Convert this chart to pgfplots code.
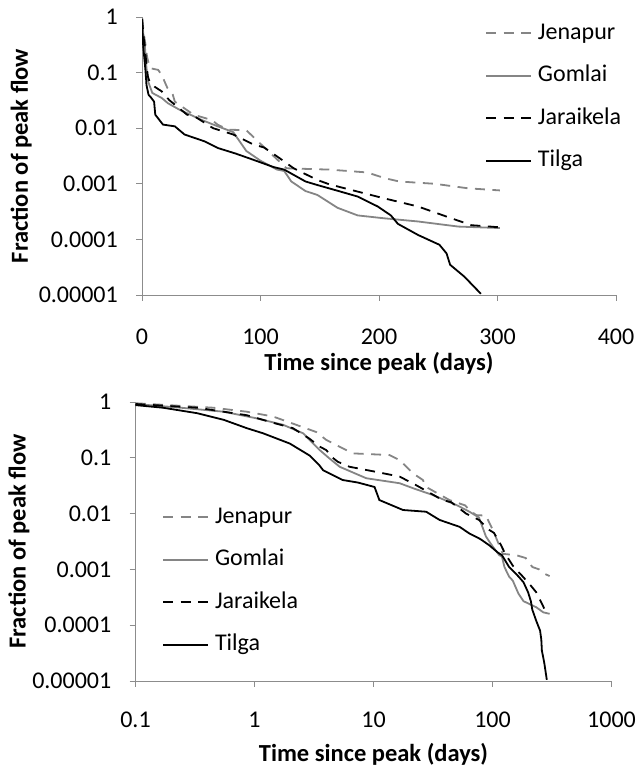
\documentclass[border=0pt]{standalone}
\usepackage{fontspec}
\setmainfont{Carlito}
\usepackage{pgfplots}
\usepackage{pgfplotstable}
\pgfplotsset{compat=1.18}
\definecolor{axgray}{HTML}{8C8C8C}
\definecolor{lgray}{HTML}{858585}

\pgfplotstableread{
t v
0.1 0.95
0.45 0.79
0.86 0.67
1.43 0.55
2.1 0.41
3.3 0.29
4.0 0.21
4.6 0.18
6.7 0.12
13.6 0.112
16.6 0.091
21.4 0.053
26 0.04
27.7 0.030
43.5 0.0175
59 0.014
64 0.0115
73 0.0094
88 0.0092
101 0.005
122 0.0019
158 0.0018
190 0.0016
205 0.00126
217 0.0011
247 0.001
275 0.00083
302 0.00076
}\jenapur

\pgfplotstableread{
t v
0.1 0.92
0.24 0.79
0.55 0.67
1.04 0.51
1.74 0.39
2.56 0.275
3.5 0.14
4.2 0.10
5.2 0.069
8.7 0.043
16.6 0.035
22 0.028
31.6 0.0215
50.6 0.014
64 0.0108
77 0.0085
88 0.0039
100 0.0026
114 0.0018
120 0.0017
126 0.0011
138 0.00074
148 0.00063
165 0.00037
182 0.00027
204 0.00024
233 0.00021
267 0.00017
302 0.00016
}\gomlai

\pgfplotstableread{
t v
0.1 0.92
0.33 0.79
0.86 0.58
1.52 0.41
2.1 0.34
2.9 0.22
3.5 0.16
4.0 0.138
4.6 0.098
5.0 0.085
6.3 0.069
10.5 0.056
16.6 0.046
23 0.032
38 0.0175
45 0.016
60 0.010
77 0.0077
94 0.0051
103 0.0045
117 0.0028
128 0.0019
148 0.00117
158 0.00098
176 0.00078
204 0.00055
233 0.00039
261 0.00024
278 0.00018
302 0.000165
}\jaraikela

\pgfplotstableread{
t v
0.1 0.88
0.17 0.79
0.33 0.63
0.55 0.48
0.86 0.34
1.18 0.275
1.98 0.18
2.9 0.11
3.5 0.074
3.77 0.06
5.5 0.04
7.4 0.036
10.2 0.030
11.2 0.0175
17.7 0.0116
27.7 0.0108
35.9 0.0077
52.8 0.0058
64 0.0044
79 0.0035
94 0.0027
111 0.0020
120 0.0018
138 0.0011
148 0.00095
165 0.00075
182 0.00059
199 0.00039
210 0.00027
216 0.00019
233 0.00012
251 0.00008
257 0.000056
260 0.000035
272 0.0000214
286 0.0000105
}\tilga

\tikzset{
  jen/.style={lgray, line width=1.8pt, dash pattern=on 10pt off 7.5pt},
  gom/.style={lgray, line width=1.8pt},
  jar/.style={black, line width=1.8pt, dash pattern=on 10pt off 7.5pt},
  til/.style={black, line width=1.8pt},
}

\begin{document}
\begin{tikzpicture}
\useasboundingbox (0pt,0pt) rectangle (636pt,767pt);
\begin{axis}[
  scale only axis,
  axis lines*=left,
  axis line style={draw=axgray, line width=0.8pt},
  tick align=outside,
  major tick length=6pt,
  tick style={draw=axgray, line width=0.8pt},
  xminorticks=false, yminorticks=false,
  ymode=log, ymin=1e-5, ymax=1,
  ytick={1e-5,1e-4,1e-3,1e-2,1e-1,1},
  yticklabels={0.00001,0.0001,0.001,0.01,0.1,1},
  ticklabel style={font=\fontsize{24}{28}\selectfont, inner sep=0pt},
  yticklabel style={anchor=east, xshift=-18pt},
  xticklabel style={anchor=north, yshift=-28pt},
  ylabel={Fraction of peak flow},
  xlabel={Time since peak (days)},
  legend cell align=left,
  legend image code/.code={\draw[#1, line width=1.8pt] (0pt,0pt) -- (45pt,0pt);},
  legend style={draw=none, fill=none, inner sep=0pt,
    font=\fontsize{24}{28}\selectfont, row sep=20.5pt, column sep=6pt,
    nodes={inner sep=0pt, text height=17pt, text depth=5pt}},
  at={(142pt,472pt)}, anchor=south west,
  width=474pt, height=278pt,
  xmin=0, xmax=400,
  xtick={0,100,200,300,400},
  xticklabels={0,100,200,300,400},
  every axis y label/.style={at={(axis description cs:-0.255,0.5)}, rotate=90, anchor=center, font=\bfseries\fontsize{24.5}{28}\selectfont},
  every axis x label/.style={at={(axis description cs:0.5,-0.245)}, anchor=center, font=\bfseries\fontsize{24.5}{28}\selectfont},
  legend style={at={(axis description cs:0.7236,0.982)}, anchor=north west},
]
\addplot[jen] table[x=t,y=v] {\jenapur};
\addplot[gom] table[x=t,y=v] {\gomlai};
\addplot[jar] table[x=t,y=v] {\jaraikela};
\addplot[til] table[x=t,y=v] {\tilga};
\legend{Jenapur,Gomlai,Jaraikela,Tilga}
\end{axis}

\begin{axis}[
  scale only axis,
  axis lines*=left,
  axis line style={draw=axgray, line width=0.8pt},
  tick align=outside,
  major tick length=6pt,
  tick style={draw=axgray, line width=0.8pt},
  xminorticks=false, yminorticks=false,
  ymode=log, ymin=1e-5, ymax=1,
  ytick={1e-5,1e-4,1e-3,1e-2,1e-1,1},
  yticklabels={0.00001,0.0001,0.001,0.01,0.1,1},
  ticklabel style={font=\fontsize{24}{28}\selectfont, inner sep=0pt},
  yticklabel style={anchor=east, xshift=-18pt},
  xticklabel style={anchor=north, yshift=-25pt},
  ylabel={Fraction of peak flow},
  xlabel={Time since peak (days)},
  legend cell align=left,
  legend image code/.code={\draw[#1, line width=1.8pt] (0pt,0pt) -- (45pt,0pt);},
  legend style={draw=none, fill=none, inner sep=0pt,
    font=\fontsize{24}{28}\selectfont, row sep=20.5pt, column sep=6pt,
    nodes={inner sep=0pt, text height=17pt, text depth=5pt}},
  at={(135.5pt,86pt)}, anchor=south west,
  width=476pt, height=279pt,
  xmode=log, xmin=0.1, xmax=1000,
  xtick={0.1,1,10,100,1000},
  xticklabels={0.1,1,10,100,1000},
  every axis y label/.style={at={(axis description cs:-0.245,0.5)}, rotate=90, anchor=center, font=\bfseries\fontsize{24.5}{28}\selectfont},
  every axis x label/.style={at={(axis description cs:0.5,-0.262)}, anchor=center, font=\bfseries\fontsize{24.5}{28}\selectfont},
  legend style={at={(axis description cs:0.0557,0.627)}, anchor=north west},
]
\addplot[jen] table[x=t,y=v] {\jenapur};
\addplot[gom] table[x=t,y=v] {\gomlai};
\addplot[jar] table[x=t,y=v] {\jaraikela};
\addplot[til] table[x=t,y=v] {\tilga};
\legend{Jenapur,Gomlai,Jaraikela,Tilga}
\end{axis}
\end{tikzpicture}
\end{document}
